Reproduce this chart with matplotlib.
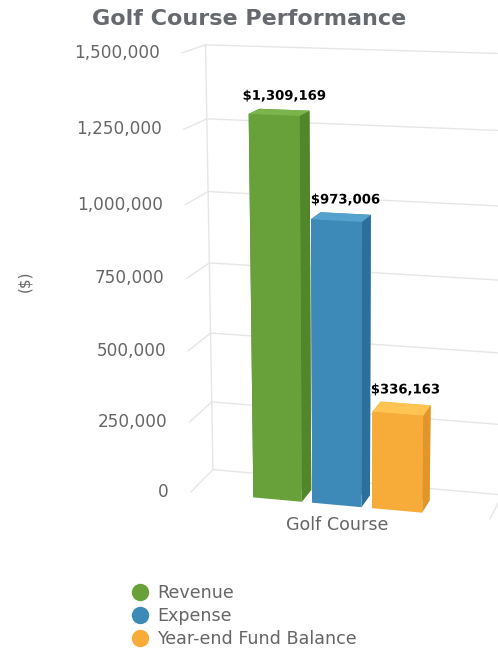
import numpy as np
import matplotlib
matplotlib.use('Agg')
import matplotlib.pyplot as plt
import matplotlib.patheffects as pe
from matplotlib.lines import Line2D
from matplotlib.transforms import offset_copy

# data
category = 'Golf Course'
series = ['Revenue', 'Expense', 'Year-end Fund Balance']
values = [1309169, 973006, 336163]
labels = ['$1,309,169', '$973,006', '$336,163']
yticks = [0, 250000, 500000, 750000, 1000000, 1250000, 1500000]

# colours: front, top (lighter), side (darker)
colors = ['#68a039', '#3d8ab8', '#f7ab38']
tops = ['#7cb44c', '#56a2cf', '#ffc451']
sides = ['#51862a', '#2b6f9b', '#e2962a']
grid_col = '#e6e6e6'

plt.rcParams['font.family'] = 'DejaVu Sans'

fig = plt.figure(figsize=(4.98, 6.49), dpi=100)
ax = fig.add_axes([0.182, 0.139, 1.0, 0.84], projection='3d')
ax.set_proj_type('persp', focal_length=0.7)
ax.view_init(elev=13.5, azim=-75.5)
ax.set_box_aspect((290, 66, 420), zoom=1.08)
ax.computed_zorder = False
ax.set_axis_off()

ax.set_xlim(0, 1)
ax.set_ylim(0, 1)
ax.set_zlim(0, yticks[-1])


def to2d(x, y, z):
    # project a 3d data point to the 2d data space of the axes
    p = ax.get_proj() @ np.array([x, y, z, 1.0])
    return p[0] / p[3], p[1] / p[3]


def label(x, y, z, s, dx=0, dy=0, **kw):
    tr = offset_copy(ax.transData, fig=fig, x=dx, y=dy, units='dots')
    px, py = to2d(x, y, z)
    return ax.text2D(px, py, s, transform=tr, zorder=10, **kw)


# grid on the left wall and the back wall, plus the frame edges
for t in yticks:
    ax.plot([0, 0, 1], [0, 1, 1], [t, t, t], color=grid_col, lw=1, zorder=1)
ax.plot([0, 0], [1, 1], [0, yticks[-1]], color=grid_col, lw=1, zorder=1)
ax.plot([1, 1], [0, 1], [0, 0], color=grid_col, lw=1, zorder=1)
ax.plot([1, 1], [1, 1], [0, yticks[-1]], color=grid_col, lw=1, zorder=1)

# tick labels at the front edge of the left wall
for t in yticks:
    label(0, 0, t, f'{t:,}', dx=-22, ha='right', va='center', fontsize=12.2,
          color='#666666')

# bars
bar_w = 0.165
bar_d = 0.5
xs = [0.215, 0.415, 0.615]
for i, v in enumerate(values):
    faces = ['#ffffff', tops[i], colors[i], colors[i], sides[i], sides[i]]
    ax.bar3d(xs[i], 0, 0, bar_w, bar_d, v, color=faces, shade=False,
             edgecolor='none', zorder=2 + i)
    label(xs[i] + bar_w / 2, bar_d, v, labels[i], dy=7, ha='center', va='bottom',
          fontsize=9.5, fontweight='bold', color='black',
          path_effects=[pe.withStroke(linewidth=2, foreground='white')])

label(0.5, 0, 0, category, dy=-20, ha='center', va='center', fontsize=12.6,
      color='#666666')

fig.text(0.5, 0.971, 'Golf Course Performance', ha='center', va='center',
         fontsize=16, fontweight='bold', color='#666a70')
fig.text(0.05, 0.567, '($)', rotation=90, ha='center', va='center',
         fontsize=11, color='#666666')

handles = [Line2D([], [], marker='o', ls='none', markersize=11.5, color=c)
           for c in colors]
fig.legend(handles, series, loc='upper left', bbox_to_anchor=(131 / 498, 1 - 584 / 649),
           frameon=False, fontsize=12.6, labelcolor='#666666', handletextpad=0.5,
           labelspacing=0.28, handlelength=1, borderpad=0, borderaxespad=0)

fig.savefig('out.png', dpi=100)
